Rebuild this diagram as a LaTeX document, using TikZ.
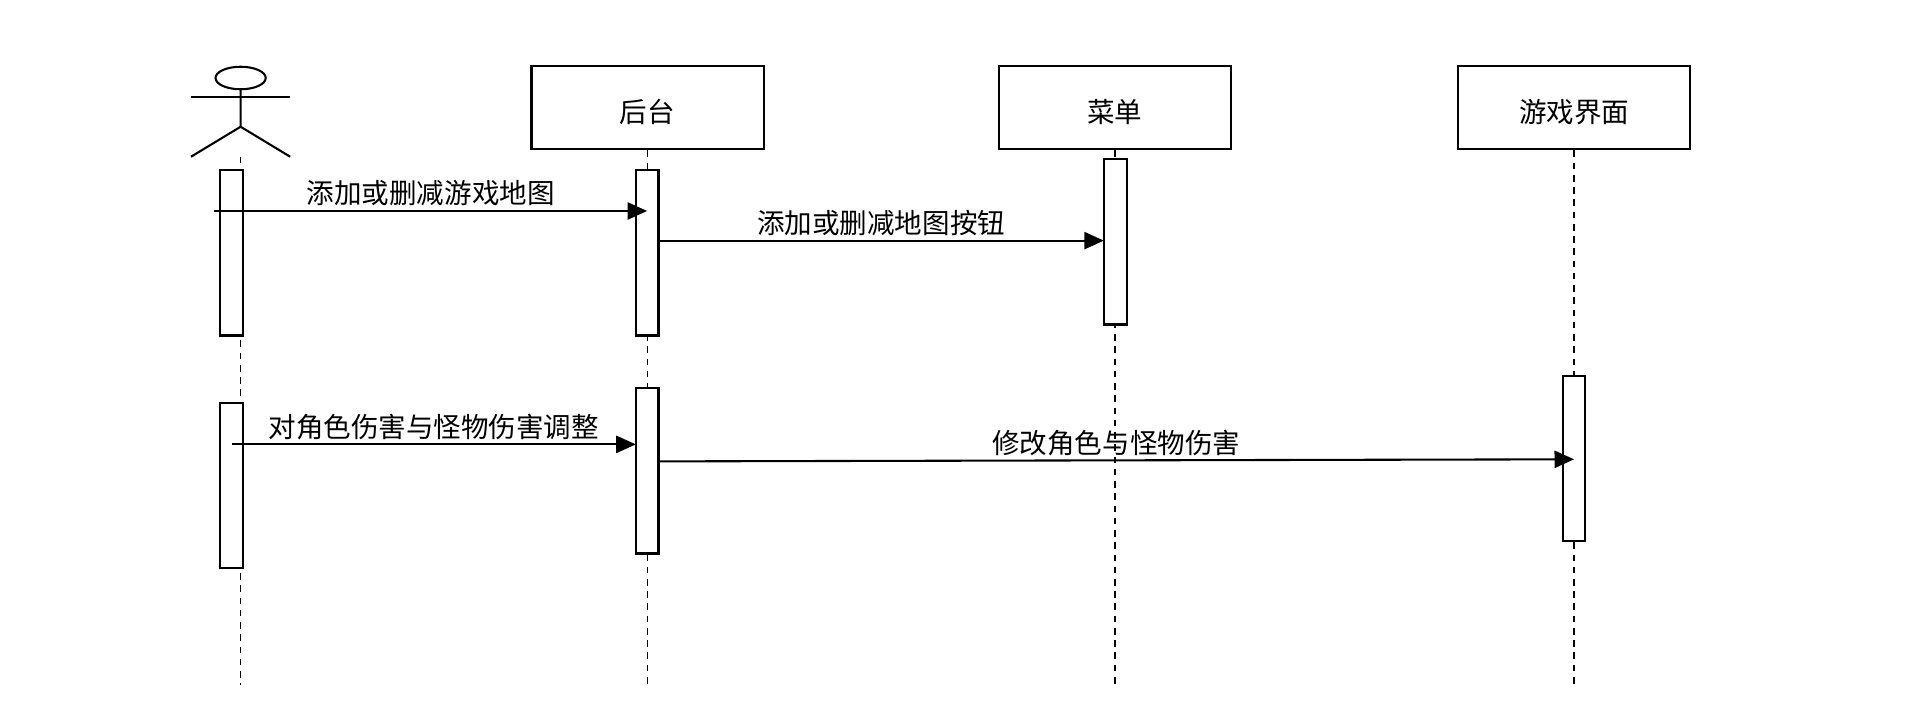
\documentclass[tikz,border=0pt]{standalone}
\usepackage{fontspec}
\setmainfont{Noto Sans CJK SC}
\usepackage{tikz}
\usetikzlibrary{arrows.meta}
\begin{document}
\begin{tikzpicture}[x=.5pt, y=-.5pt, line width=.85pt,
        obj/.style={draw, minimum width=94.75pt, minimum height=34pt, inner sep=0pt, text height=12pt, text depth=0pt, font=\fontsize{11.25}{13}\selectfont},
        bar/.style={draw, fill=white, minimum width=9.25pt, minimum height=67.5pt, inner sep=0pt, outer sep=0pt, anchor=north},
        life/.style={line width=.6pt, dash pattern=on 2.7pt off 2.3pt},
        msg/.style={-{Triangle[length=8pt, width=7pt]}},
        lbl/.style={above=1.5pt, inner sep=0pt, font=\fontsize{11.25}{13}\selectfont}]
            \path[use as bounding box, fill=white](0, 0) rectangle (1568, 584);
            \node[obj](houtai) at (528.8, 88){后台};
            \node[obj](caidan) at (910.5, 88){菜单};
            \node[obj](jiemian) at (1285.5, 88){游戏界面};
            \draw(196.5, 63.7) ellipse [x radius=10.25pt, y radius=4.6pt];
            \draw(156, 79) -- (237, 79);
            \draw(196.5, 73.3) -- (196.5, 103.5) -- (156, 128);
            \draw(196.5, 103.5) -- (237, 128);
            \coordinate (actor) at (196.5, 128);
            \draw[life](actor) -- (actor |- 0, 559);
            \draw[life](houtai.south) -- (houtai.south |- 0, 560.8);
            \draw[life](caidan.south) -- (caidan.south |- 0, 560.8);
            \draw[life](jiemian.south) -- (jiemian.south |- 0, 560.8);
            \node[bar](a1) at (189.25, 139){};
            \node[bar](b1) at (528.5, 139){};
            \node[bar](c1) at (910.75, 130){};
            \node[bar](a2) at (189.25, 328.8){};
            \node[bar](b2) at (528.5, 317){};
            \node[bar](d1) at (1285.5, 307){};
            \coordinate (m1) at (175, 172.3);
            \draw[msg](m1) -- (b1 |- m1)node[lbl, midway]{添加或删减游戏地图};
            \draw[msg](b1.east |- 0, 196.5) -- (c1.west |- 0, 196.5)node[lbl, midway]{添加或删减地图按钮};
            \draw[msg](a2 |- 0, 362.9) -- (b2.west |- 0, 362.9)node[lbl, midway]{对角色伤害与怪物伤害调整};
            \draw[msg](b2.east |- 0, 376.8) -- (d1 |- 0, 375.1)node[lbl, midway]{修改角色与怪物伤害};
        \end{tikzpicture}
\end{document}
